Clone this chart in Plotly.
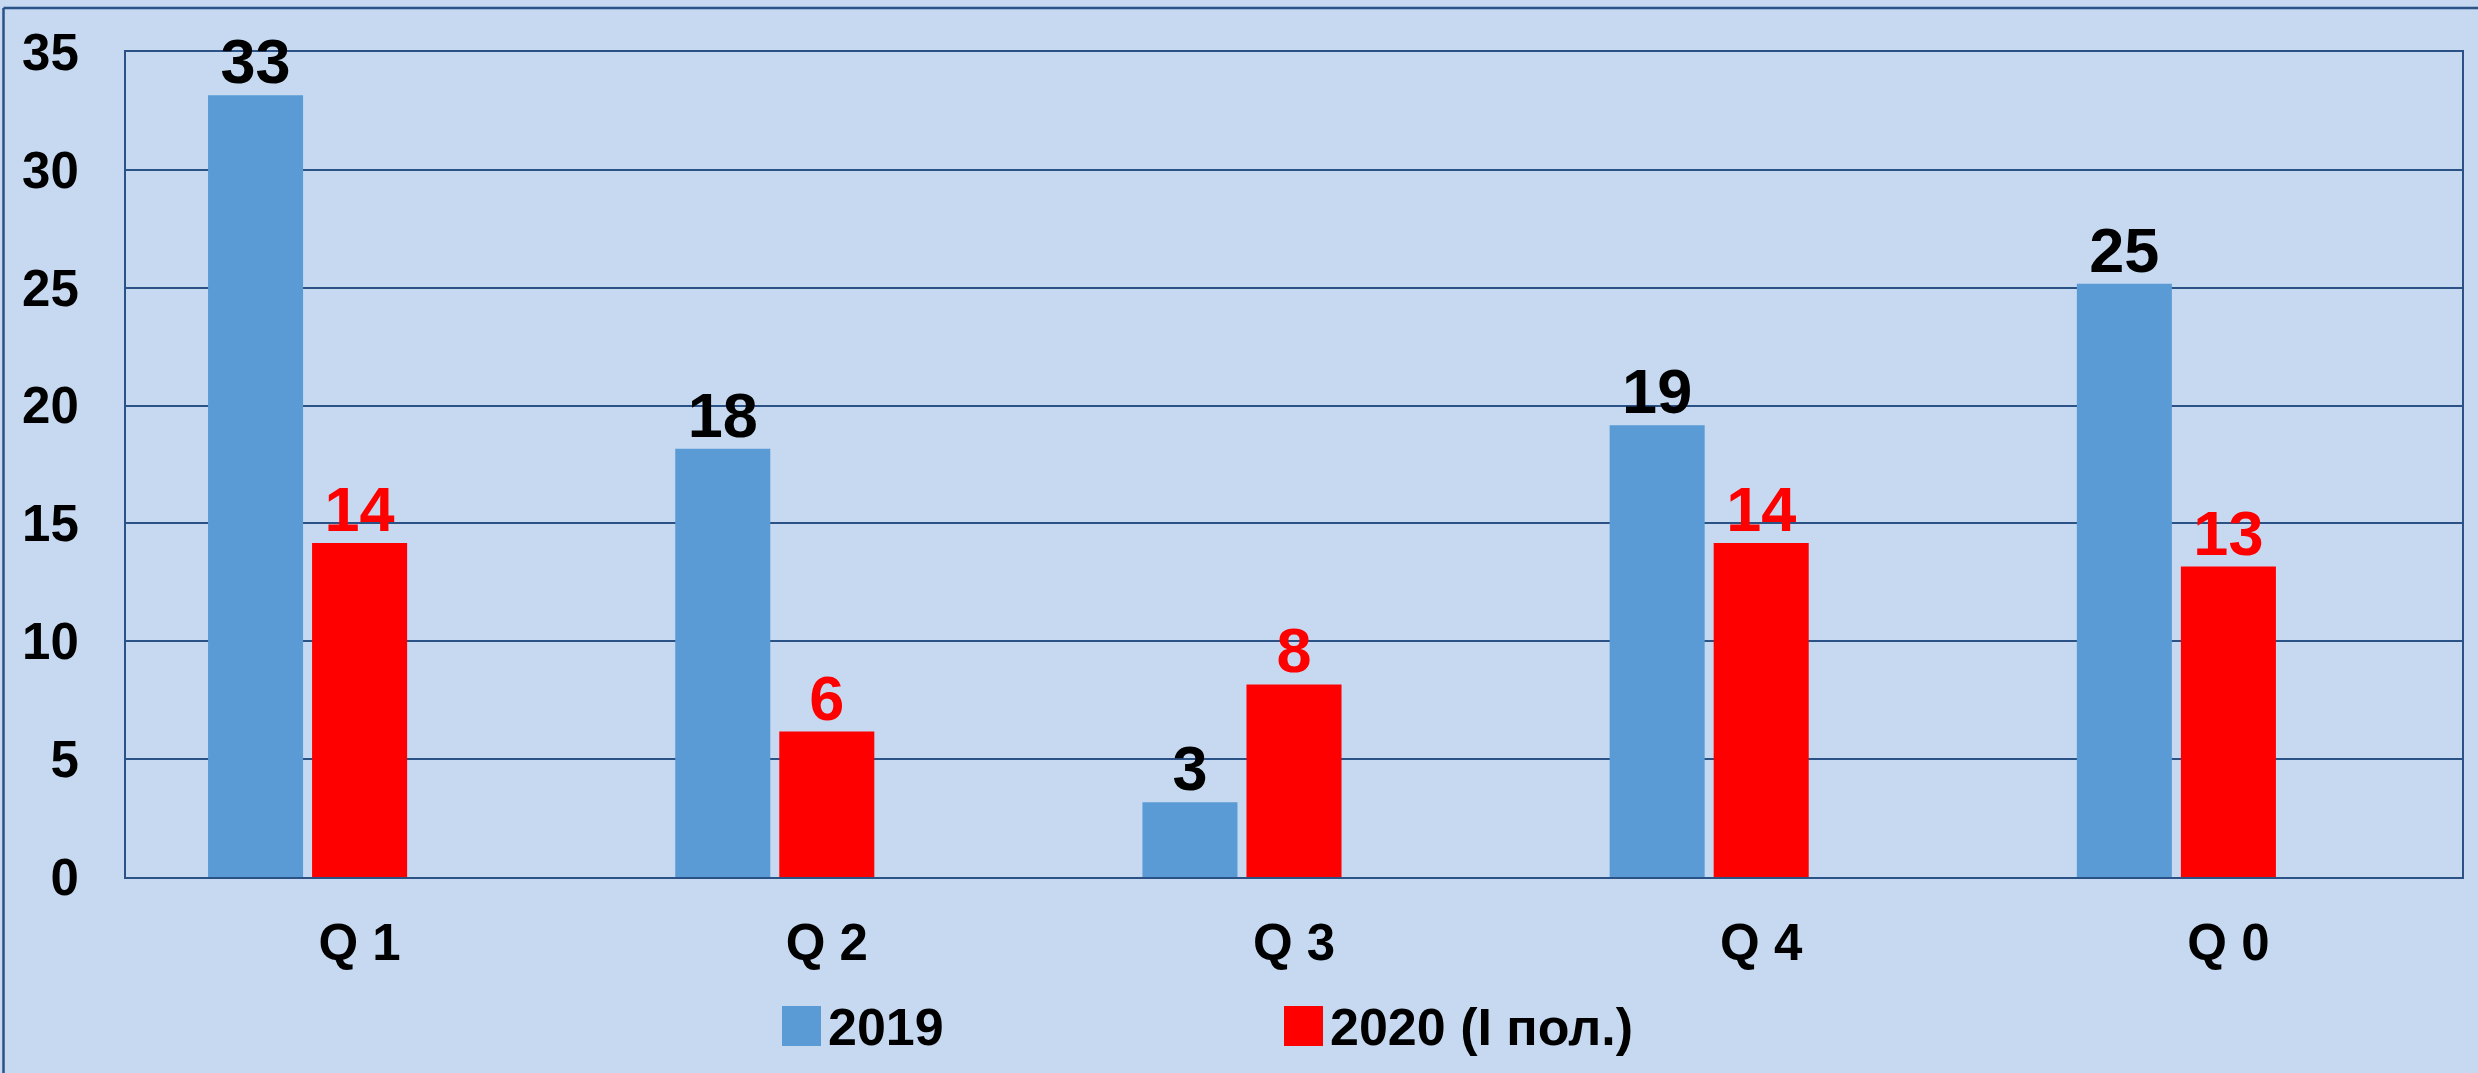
import plotly.graph_objects as go

categories = ["Q 1", "Q 2", "Q 3", "Q 4", "Q 0"]
values_2019 = [33, 18, 3, 19, 25]
values_2020 = [14, 6, 8, 14, 13]
series_names = ["2019", "2020 (I пол.)"]
y_ticks = [0, 5, 10, 15, 20, 25, 30, 35]

W, H = 2478, 1073
L, R, T, B = 126, 16, 52, 196
PW, PH = W - L - R, H - T - B

def px_x(x):
    return (x - L) / PW

def px_y(y):
    return (H - B - y) / PH

BG = "#C6D9F0"
GRID = "#2A5287"
BLUE = "#5B9BD5"
RED = "#FF0000"
FONT = "Liberation Sans, Arial, sans-serif"

EDGE = 8
bar_w = (95 - EDGE) / 467
slot = 104 / 467

fig = go.Figure()
fig.add_trace(go.Bar(
    x=categories, y=values_2019, name=series_names[0],
    marker=dict(color=BLUE, line=dict(width=EDGE, color=BLUE)),
    width=bar_w, offset=-slot - bar_w / 2,
    text=[str(v) for v in values_2019], textposition="outside",
    textfont=dict(family=FONT, size=63, color="black", weight="bold"),
    cliponaxis=False, constraintext="none", showlegend=False,
))
fig.add_trace(go.Bar(
    x=categories, y=values_2020, name=series_names[1],
    marker=dict(color=RED, line=dict(width=EDGE, color=RED)),
    width=bar_w, offset=-bar_w / 2,
    text=[str(v) for v in values_2020], textposition="outside",
    textfont=dict(family=FONT, size=63, color=RED, weight="bold"),
    cliponaxis=False, constraintext="none", showlegend=False,
))

fig.update_layout(
    width=W, height=H,
    margin=dict(l=L, r=R, t=T, b=B, pad=0, autoexpand=False),
    paper_bgcolor=BG, plot_bgcolor=BG,
    barmode="overlay",
    font=dict(family=FONT, color="black", weight="bold"),
    showlegend=False,
)
fig.update_xaxes(
    automargin=False,
    showgrid=False, showline=True, linecolor=GRID, linewidth=2, mirror=True,
    ticks="", tickfont=dict(family=FONT, size=51, weight="bold"),
    ticklabelstandoff=20, layer="below traces",
)
fig.update_yaxes(
    automargin=False,
    range=[0, 35], tickvals=y_ticks, showgrid=True, gridcolor=GRID, gridwidth=2,
    showline=True, linecolor=GRID, linewidth=2, mirror=True, zeroline=False,
    ticks="", tickfont=dict(family=FONT, size=51, weight="bold"),
    ticklabelstandoff=35, layer="below traces",
)

LEG_FONT = dict(family=FONT, size=52, color="black", weight="bold")
shapes = [
    # outer chart frame (top and left visible)
    dict(type="line", xref="paper", yref="paper", x0=px_x(3.5), x1=px_x(W + 5),
         y0=px_y(8), y1=px_y(8), line=dict(color=GRID, width=2.5)),
    dict(type="line", xref="paper", yref="paper", x0=px_x(3.5), x1=px_x(3.5),
         y0=px_y(8), y1=px_y(H + 5), line=dict(color=GRID, width=2.5)),
    # legend swatches
    dict(type="rect", xref="paper", yref="paper", x0=px_x(782), x1=px_x(821),
         y0=px_y(1046), y1=px_y(1006), fillcolor=BLUE, line=dict(width=0)),
    dict(type="rect", xref="paper", yref="paper", x0=px_x(1284), x1=px_x(1323),
         y0=px_y(1046), y1=px_y(1006), fillcolor=RED, line=dict(width=0)),
]
annotations = [
    dict(text=series_names[0], xref="paper", yref="paper", x=px_x(826), y=px_y(1027),
         xanchor="left", yanchor="middle", showarrow=False, font=LEG_FONT),
    dict(text=series_names[1], xref="paper", yref="paper", x=px_x(1328), y=px_y(1027),
         xanchor="left", yanchor="middle", showarrow=False, font=LEG_FONT),
]
fig.update_layout(shapes=shapes, annotations=annotations)

fig.write_html(
    "out.html",
    config={"displayModeBar": False},
    post_script="document.body.style.margin='0';document.body.style.overflow='hidden';",
)
